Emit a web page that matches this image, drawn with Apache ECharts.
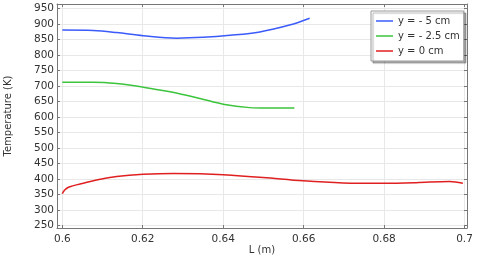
<!DOCTYPE html>
<html>
<head>
<meta charset="utf-8">
<script src="https://cdn.jsdelivr.net/npm/echarts@6/dist/echarts.min.js"></script>
<style>html,body{margin:0;padding:0;background:#fff}#c{width:480px;height:257px}</style>
</head>
<body>
<div id="c"></div>
<script>
var seriesNames = ['y = - 5 cm', 'y = - 2.5 cm', 'y = 0 cm'];
var seriesColors = ['#3b5bfa', '#3cc43c', '#e02020'];
var xTicks = [0.6, 0.62, 0.64, 0.66, 0.68, 0.7];
var yTicks = [250, 300, 350, 400, 450, 500, 550, 600, 650, 700, 750, 800, 850, 900, 950];

var blueL = [0.6, 0.6077, 0.6135, 0.6201, 0.6284, 0.635, 0.6417, 0.6491, 0.6565, 0.6615];
var blueT = [880, 878.5, 872, 862, 854, 856.5, 863, 874, 896, 918];
var greenL = [0.6, 0.6077, 0.6135, 0.6201, 0.6268, 0.6342, 0.64, 0.6466, 0.6508, 0.6577];
var greenT = [712, 712, 707.6, 696, 681, 659.6, 641, 630, 628.5, 628.5];
var redL = [0.6, 0.6002, 0.6005, 0.6008, 0.6012, 0.6019, 0.6035, 0.6057, 0.6094, 0.6135, 0.6201, 0.6276, 0.6342, 0.64, 0.6499, 0.6599, 0.6698, 0.6797, 0.688, 0.6963, 0.6996];
var redT = [352, 358, 363, 367, 371, 375, 381, 388, 399, 408, 415, 418, 417, 414, 405, 394, 387.3, 386, 388, 392, 386];

function pairs(xs, ys) { return xs.map(function (x, i) { return [x, ys[i]]; }); }
var seriesL = [blueL, greenL, redL];
var seriesT = [blueT, greenT, redT];

var txt = '#333';
var gridCol = '#e8e8e8';
var frameCol = '#777';

var chart = echarts.init(document.getElementById('c'));
var xCommon = {
  type: 'value', min: 0.59868, max: 0.70062,
  axisLine: { show: true, onZero: false, lineStyle: { color: frameCol, width: 1 } },
  axisTick: { show: true, inside: true, length: 3, customValues: xTicks, lineStyle: { color: frameCol } },
  splitLine: { show: false }
};
var yCommon = {
  type: 'value', min: 242, max: 964,
  axisLine: { show: true, onZero: false, lineStyle: { color: frameCol, width: 1 } },
  axisTick: { show: true, inside: true, length: 3, customValues: yTicks, lineStyle: { color: frameCol } },
  splitLine: { show: false }
};
chart.setOption({
  animation: false,
  textStyle: { fontFamily: 'DejaVu Sans' },
  grid: { left: 57, right: 13, top: 4, bottom: 29, containLabel: false, outerBoundsMode: 'none' },
  legend: {
    orient: 'vertical', left: 371, top: 11,
    data: seriesNames,
    icon: 'path://M0,0H17V1.5H0Z',
    itemWidth: 17, itemHeight: 10, itemGap: 5,
    padding: [5, 4, 5, 5],
    backgroundColor: '#fff', borderColor: '#999', borderWidth: 1,
    shadowColor: 'rgba(0,0,0,0.3)', shadowBlur: 1, shadowOffsetX: 2, shadowOffsetY: 2,
    textStyle: { fontSize: 10, color: txt, fontFamily: 'DejaVu Sans' }
  },
  xAxis: [
    Object.assign({}, xCommon, {
      position: 'bottom', name: 'L (m)', nameLocation: 'middle', nameGap: 17, nameMoveOverlap: false,
      nameTextStyle: { fontSize: 10, color: txt },
      axisLabel: { show: true, customValues: xTicks, fontSize: 10.5, color: txt, margin: 6,
        formatter: function (v) { return String(+v.toFixed(2)); } },
      splitLine: { show: true, lineStyle: { color: gridCol, width: 1 } }
    }),
    Object.assign({}, xCommon, { position: 'top', axisLabel: { show: false } })
  ],
  yAxis: [
    Object.assign({}, yCommon, {
      position: 'left', name: 'Temperature (K)', nameLocation: 'middle', nameGap: 44, nameMoveOverlap: false,
      nameTextStyle: { fontSize: 10, color: txt },
      axisLabel: { show: true, customValues: yTicks, fontSize: 10.5, color: txt, margin: 3 },
      splitLine: { show: true, lineStyle: { color: gridCol, width: 1 } }
    }),
    Object.assign({}, yCommon, { position: 'right', axisLabel: { show: false } })
  ],
  series: seriesNames.map(function (n, i) {
    return {
      name: n, type: 'line', xAxisIndex: 0, yAxisIndex: 0,
      data: pairs(seriesL[i], seriesT[i]),
      smooth: 0.35, symbol: 'none', showSymbol: false,
      lineStyle: { color: seriesColors[i], width: 1.5 },
      itemStyle: { color: seriesColors[i] }
    };
  })
});
</script>
</body>
</html>
